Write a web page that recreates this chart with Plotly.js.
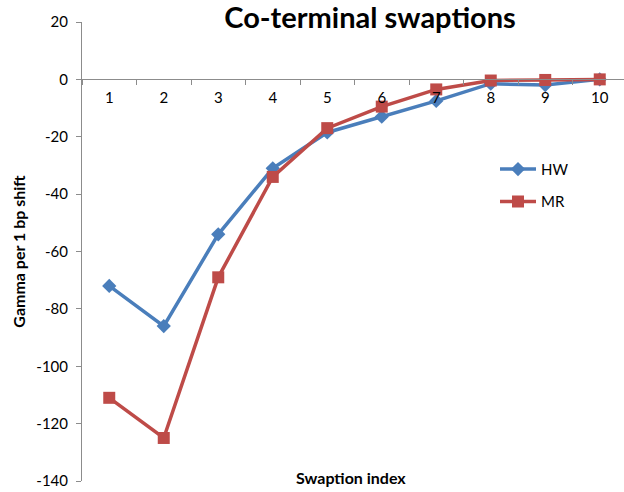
<!DOCTYPE html>
<html>
<head>
<meta charset="utf-8">
<script src="https://cdn.plot.ly/plotly-3.0.1.min.js"></script>
<style>html,body{margin:0;padding:0;background:#fff;}</style>
</head>
<body>
<div id="chart" style="width:624px;height:492px;"></div>
<script>
// Swaption indices and gamma per 1 bp shift for the two models
const swaptionIndex = ['1', '2', '3', '4', '5', '6', '7', '8', '9', '10'];
const gammaHW = [-72, -86, -54, -31, -18.5, -13, -7.5, -1.5, -2, 0];
const gammaMR = [-111, -125, -69, -34, -17, -9.5, -3.5, -0.4, -0.2, 0];
const yTicks = [20, 0, -20, -40, -60, -80, -100, -120, -140];
// plain hyphen-minus labels for the value axis
const yTickText = yTicks.map(v => String(v));

const FONT = 'Lato, "Liberation Sans", sans-serif';
const BLUE = '#4A7EBB';
const RED = '#BE4B48';

const traces = [
  {
    name: 'HW', x: swaptionIndex, y: gammaHW, type: 'scatter', mode: 'lines+markers',
    line: {color: BLUE, width: 3.5},
    marker: {symbol: 'diamond', size: 11, color: BLUE},
    legendgroup: 'hw'
  },
  {
    name: 'MR', x: swaptionIndex, y: gammaMR, type: 'scatter', mode: 'lines+markers',
    line: {color: RED, width: 3.5},
    marker: {symbol: 'square', size: 12, color: RED},
    legendgroup: 'mr'
  }
];

const layout = {
  width: 624, height: 492,
  margin: {l: 82, r: 0, t: 22, b: 11},
  paper_bgcolor: '#ffffff', plot_bgcolor: '#ffffff',
  font: {family: FONT, size: 14, color: '#000'},
  title: {
    text: '<b>Co-terminal swaptions</b>',
    font: {family: FONT, size: 29, color: '#000'},
    x: 0.593, xanchor: 'center', y: 0.963, yanchor: 'middle'
  },
  xaxis: {
    type: 'category',
    range: [-0.5, 9.445],
    anchor: 'free', position: 0.875,
    showline: true, linecolor: '#8c8c8c', linewidth: 1,
    showgrid: false, zeroline: false,
    tickson: 'boundaries', ticks: 'outside', ticklen: 5, tickcolor: '#8c8c8c',
    ticklabelstandoff: 5,
    tickfont: {family: FONT, size: 15, color: '#000'}
  },
  yaxis: {
    range: [-140, 20],
    tickmode: 'array', tickvals: yTicks, ticktext: yTickText,
    showline: true, linecolor: '#8c8c8c', linewidth: 1,
    showgrid: false,
    zeroline: false,
    ticks: 'outside', ticklen: 5, tickcolor: '#8c8c8c',
    ticklabelstandoff: 5,
    tickfont: {family: FONT, size: 15, color: '#000'},
    title: {text: '<b>Gamma per 1 bp shift</b>', font: {family: FONT, size: 16, color: '#000'}, standoff: 6}
  },
  legend: {
    x: 0.762, y: 0.715, xanchor: 'left', yanchor: 'top',
    bgcolor: 'rgba(0,0,0,0)',
    font: {family: FONT, size: 15, color: '#000'},
    itemwidth: 36, tracegroupgap: 10
  },
  annotations: [
    {
      text: '<b>Swaption index</b>', xref: 'paper', yref: 'paper',
      x: 0.497, y: 0.0, xanchor: 'center', yanchor: 'middle', yshift: 4,
      showarrow: false, font: {family: FONT, size: 16, color: '#000'}
    }
  ],
  showlegend: true
};

Plotly.newPlot('chart', traces, layout, {displayModeBar: false, staticPlot: true});
</script>
</body>
</html>
